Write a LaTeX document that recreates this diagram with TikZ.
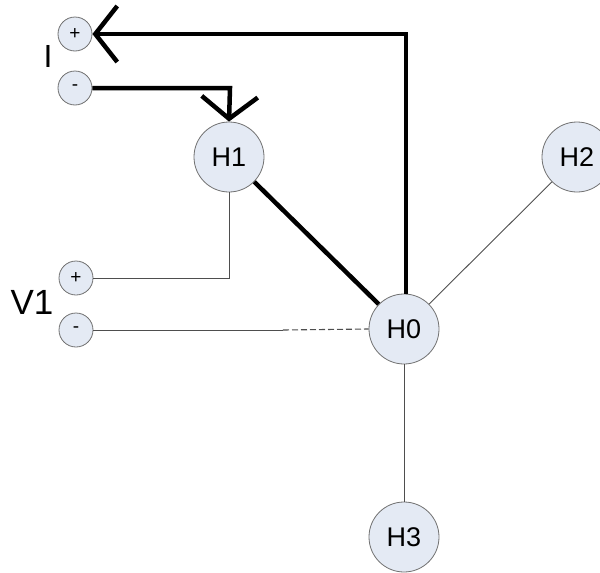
\documentclass[tikz,border=0pt]{standalone}
\usepackage{fontspec}
\setmainfont{Liberation Sans}
\usetikzlibrary{arrows.meta}
\definecolor{nodefill}{HTML}{E4EAF4}
\definecolor{nodeline}{HTML}{707070}
\tikzset{
  bignode/.style={circle, draw=nodeline, fill=nodefill, line width=0.8pt, minimum size=70pt, inner sep=0pt, font=\fontsize{27}{27}\selectfont},
  term/.style={circle, draw=nodeline, fill=nodefill, line width=0.8pt, minimum size=34pt, inner sep=0pt, font=\fontsize{19}{19}\selectfont},
  thick line/.style={line width=4.5pt, black},
  thin line/.style={line width=0.9pt, draw=nodeline!70!black},
  barb/.style={-{Straight Barb[length=22pt,width=56pt]}},
  biglabel/.style={inner sep=0pt, anchor=center}
}
\begin{document}
\begin{tikzpicture}[x=1pt,y=-1pt]
\useasboundingbox (0,0) rectangle (600,573);
\node[term] (Ip) at (75,34) {+};
\node[term] (Im) at (75,88) {-};
\node[term] (Vp) at (76,278) {+};
\node[term] (Vm) at (76,330) {-};
\node[bignode] (H1) at (229,157) {H1};
\node[bignode] (H2) at (577,157) {H2};
\node[bignode] (H0) at (404,329) {H0};
\node[bignode] (H3) at (404,537) {H3};
\node[biglabel, font=\fontsize{32}{32}\selectfont] (lI) at (48,56) {I};
\node[biglabel, font=\fontsize{35}{35}\selectfont] (lV) at (32,302) {V1};
% thin connectors
\draw[thin line] (H1.south) |- (Vp.east);
\coordinate (dashstart) at (283,330);
\draw[thin line] (Vm.east) -- (dashstart);
\draw[thin line, line width=1.1pt, dash pattern=on 6pt off 3pt] (dashstart) -- (H0.west);
\draw[thin line] (H0) -- (H2);
\draw[thin line] (H0.south) -- (H3.north);
% thick connectors
\draw[thick line] (H1) -- (H0);
\coordinate (corner) at (406,34);
\draw[thick line, barb] (H0.north -| corner) -- (corner) -- (Ip.east);
\coordinate (corner2) at (230,88);
\draw[thick line, barb] (Im.east) -- (corner2) -- (H1.north);
\end{tikzpicture}
\end{document}
